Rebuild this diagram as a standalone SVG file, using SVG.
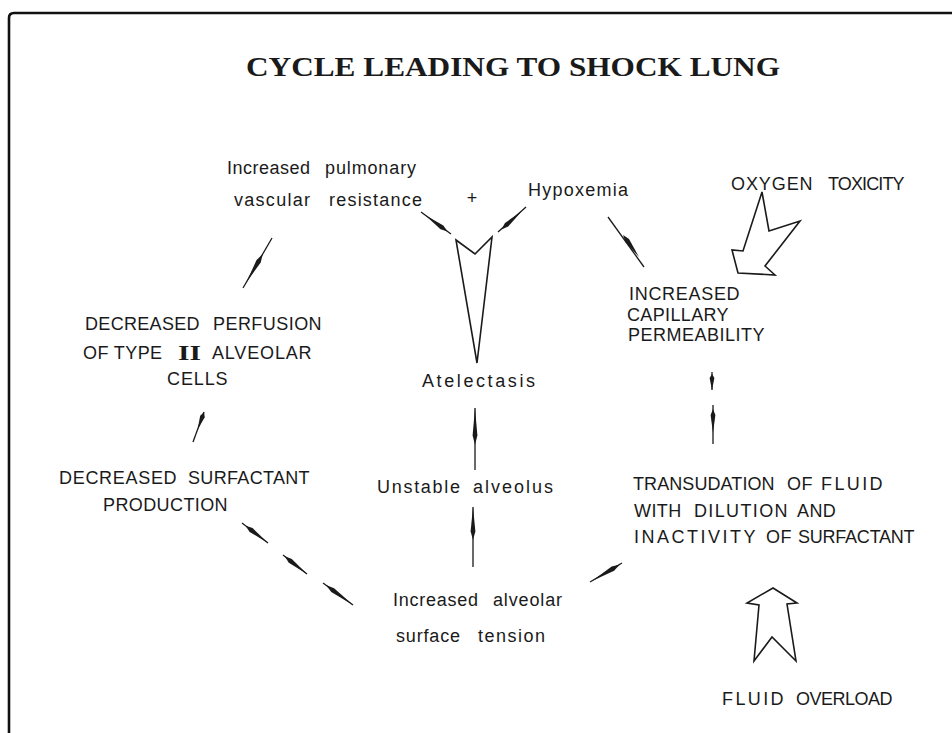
<svg xmlns="http://www.w3.org/2000/svg" xmlns:xlink="http://www.w3.org/1999/xlink" width="952" height="733" viewBox="0 0 952 733">
<style>
.t{font-family:"Liberation Sans",Arial,sans-serif;font-size:18px;fill:#1a1a1a;letter-spacing:0.4px}
.l{font-family:"Liberation Sans",Arial,sans-serif;font-size:18px;fill:#1a1a1a}
.ttl{font-family:"Liberation Serif","Times New Roman",serif;font-size:27px;font-weight:bold;fill:#1a1a1a}
.rn{font-family:"Liberation Serif","Times New Roman",serif;font-size:21px;font-weight:bold;letter-spacing:0}
.ln{stroke:#1a1a1a;stroke-width:1.3;fill:none}
.sp{fill:#1a1a1a}
.open{fill:#fff;stroke:#1a1a1a;stroke-width:1.6;stroke-linejoin:miter}
.frame{fill:none;stroke:#111;stroke-width:2.6}
</style>
<defs>
<polygon id="spd" points="0,0 -30,-2.4 -40,0 -30,2.4"/>
</defs>
<rect width="952" height="733" fill="#fff"/>
<path class="frame" d="M9,733 L9,18 Q9,13 14,13 L952,13"/>
<text id="title" class="ttl" x="246" y="76" textLength="534" lengthAdjust="spacingAndGlyphs">CYCLE LEADING TO SHOCK LUNG</text>

<g id="node-ipvr">
<text class="l"><tspan x="227" y="174" textLength="83">Increased</tspan><tspan x="325" y="174" textLength="91">pulmonary</tspan></text>
<text class="l"><tspan x="234" y="206" textLength="76">vascular</tspan><tspan x="329" y="206" textLength="93">resistance</tspan></text>
</g>
<g id="node-plus"><text class="l" x="472" y="204" text-anchor="middle" font-size="16">+</text></g>
<g id="node-hypox"><text class="l" x="528" y="196" textLength="100">Hypoxemia</text></g>
<g id="node-oxy">
<text class="t"><tspan x="731" y="190" textLength="82">OXYGEN</tspan><tspan x="828" y="190" textLength="77">TOXICITY</tspan></text>
<polygon class="open" points="762,192 769,231 800,221 765,266 775,275 738,273 732,250 743,251"/>
</g>
<g id="node-atel">
<polygon class="open" points="456,240 475,254 492,237 477,363"/>
<text class="l" x="422" y="387" textLength="113">Atelectasis</text>
</g>
<g id="node-icp">
<text class="t" x="629" y="300" textLength="111">INCREASED</text>
<text class="t" x="627" y="321" textLength="102">CAPILLARY</text>
<text class="t" x="628" y="341" textLength="137">PERMEABILITY</text>
</g>
<g id="node-dp">
<text class="t"><tspan x="85" y="330" textLength="115">DECREASED</tspan><tspan x="213" y="330" textLength="109">PERFUSION</tspan></text>
<text class="t"><tspan x="83" y="359">OF TYPE</tspan><tspan class="rn" x="178" y="360" textLength="23" lengthAdjust="spacingAndGlyphs">II</tspan><tspan x="212" y="359" textLength="100">ALVEOLAR</tspan></text>
<text class="t" x="167" y="385" textLength="61">CELLS</text>
</g>
<g id="node-dsp">
<text class="t"><tspan x="59" y="484" textLength="118">DECREASED</tspan><tspan x="188" y="484" textLength="122">SURFACTANT</tspan></text>
<text class="t" x="103" y="511" textLength="125">PRODUCTION</text>
</g>
<g id="node-unst">
<text class="l"><tspan x="377" y="493" textLength="83">Unstable</tspan><tspan x="473" y="493" textLength="80">alveolus</tspan></text>
</g>
<g id="node-trans">
<text class="t"><tspan x="633" y="490" textLength="142">TRANSUDATION</tspan><tspan x="787" y="490">OF</tspan><tspan x="821" y="490" textLength="62">FLUID</tspan></text>
<text class="t"><tspan x="634" y="517">WITH</tspan><tspan x="694" y="517" textLength="94">DILUTION</tspan><tspan x="797" y="517">AND</tspan></text>
<text class="t"><tspan x="634" y="543" textLength="122">INACTIVITY</tspan><tspan x="766" y="543">OF</tspan><tspan x="798" y="543" textLength="117">SURFACTANT</tspan></text>
</g>
<g id="node-iast">
<text class="l"><tspan x="393" y="606" textLength="85">Increased</tspan><tspan x="493" y="606" textLength="69">alveolar</tspan></text>
<text class="l"><tspan x="396" y="642" textLength="64">surface</tspan><tspan x="478" y="642" textLength="67">tension</tspan></text>
</g>
<g id="node-fluid">
<polygon class="open" points="773,588 797,603 787,604 796,661 772,637 754,661 759,605 747,603"/>
<text class="t"><tspan x="722" y="705" textLength="62">FLUID</tspan><tspan x="796" y="705" textLength="97">OVERLOAD</tspan></text>
</g>

<g id="connectors">
<line class="ln" x1="272" y1="238" x2="243" y2="288"/>
<use href="#spd" class="sp" transform="translate(246,283) rotate(120.1) scale(0.84,1)"/>
<line class="ln" x1="451" y1="234" x2="421" y2="212"/>
<use href="#spd" class="sp" transform="translate(425,215) rotate(216.3) scale(0.7,1)"/>
<line class="ln" x1="498" y1="232" x2="526" y2="207"/>
<use href="#spd" class="sp" transform="translate(522,211) rotate(-41.8) scale(0.69,1)"/>
<line class="ln" x1="608" y1="217" x2="644" y2="267"/>
<use href="#spd" class="sp" transform="translate(639,257) rotate(54.2) scale(0.68,1)"/>
<line class="ln" x1="204" y1="412" x2="193" y2="442"/>
<use href="#spd" class="sp" transform="translate(197.5,430) rotate(110.1) scale(0.48,1)"/>
<line class="ln" x1="475" y1="470" x2="475" y2="408"/>
<use href="#spd" class="sp" transform="translate(475,408) rotate(-90) scale(0.92,1)"/>
<line class="ln" x1="473" y1="567" x2="473" y2="507"/>
<use href="#spd" class="sp" transform="translate(473,507) rotate(-90) scale(0.82,1)"/>
<line class="ln" x1="242" y1="523" x2="268" y2="543"/>
<use href="#spd" class="sp" transform="translate(268,543) rotate(37.6) scale(0.71,1)"/>
<line class="ln" x1="283" y1="555" x2="307" y2="574"/>
<use href="#spd" class="sp" transform="translate(307,574) rotate(38.4) scale(0.71,1)"/>
<line class="ln" x1="323" y1="583" x2="353" y2="605"/>
<use href="#spd" class="sp" transform="translate(353,605) rotate(36.3) scale(0.84,1)"/>
<line class="ln" x1="622" y1="563" x2="590" y2="582"/>
<use href="#spd" class="sp" transform="translate(592,581) rotate(149.3) scale(0.81,1)"/>
<line class="ln" x1="712" y1="372" x2="712" y2="390"/>
<use href="#spd" class="sp" transform="translate(712,390) rotate(90) scale(0.4,1)"/>
<line class="ln" x1="713" y1="405" x2="713" y2="444"/>
<use href="#spd" class="sp" transform="translate(713,433) rotate(90) scale(0.6,1)"/>
</g>
</svg>
